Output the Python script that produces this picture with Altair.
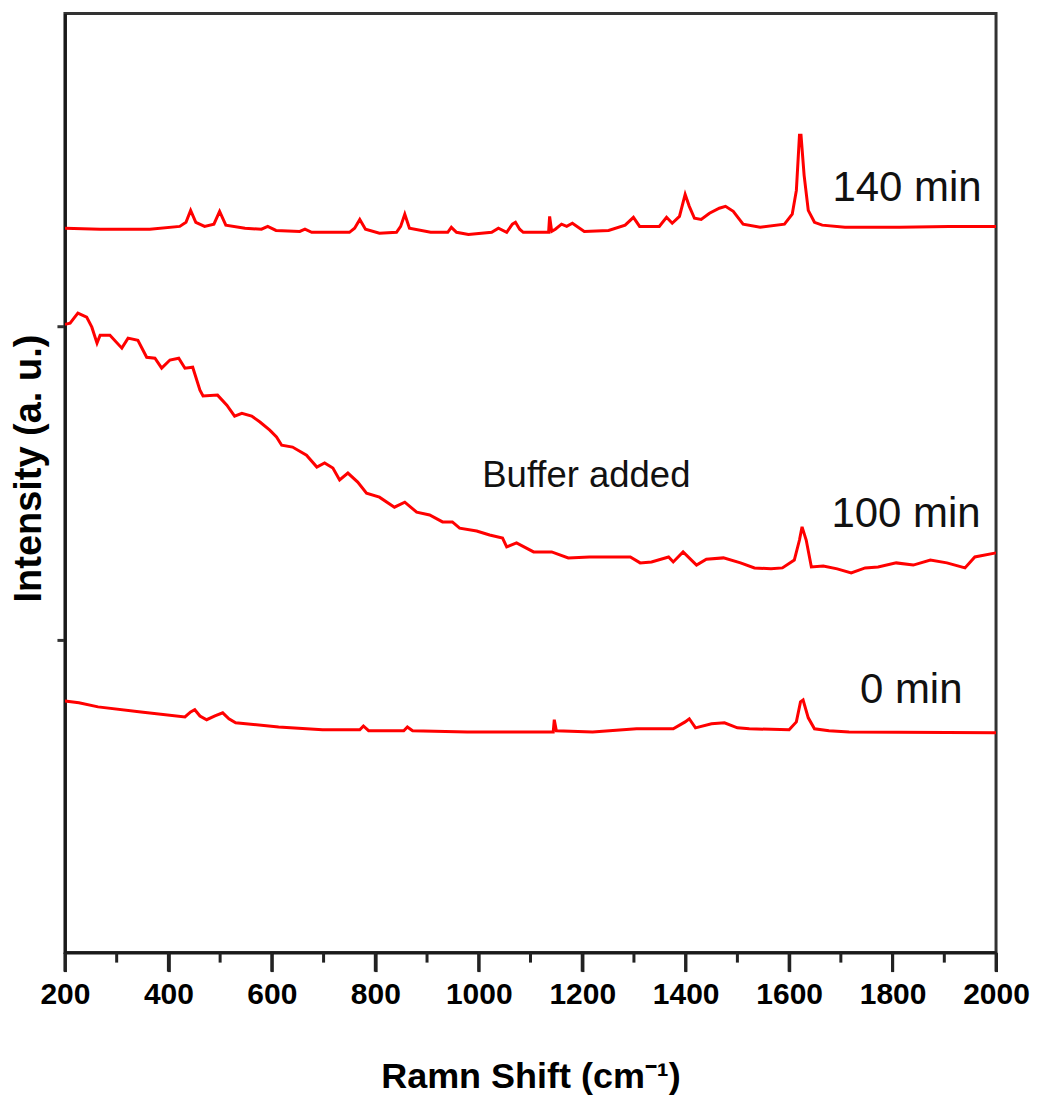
import altair as alt
import pandas as pd

# ---- data (Raman shift in cm^-1, intensity in a.u.) ----
wn_140 = [200, 268, 364, 422, 434, 443, 453, 470, 488, 499, 511, 548, 580, 592, 608, 654, 664, 677,
          750, 760, 770, 781, 808, 841, 849, 857, 866, 907, 940, 947, 957, 980, 1025, 1038, 1054,
          1065, 1071, 1079, 1086, 1135, 1137, 1141, 1148, 1160, 1170, 1181, 1204, 1251, 1283, 1299,
          1311, 1349, 1363, 1374, 1388, 1399, 1407, 1417, 1430, 1446, 1465, 1477, 1492, 1511, 1544,
          1591, 1606, 1614, 1620, 1623, 1629, 1637, 1649, 1664, 1708, 1813, 1909, 2000]
int_140 = [2.314, 2.311, 2.311, 2.320, 2.333, 2.371, 2.333, 2.320, 2.327, 2.368, 2.324, 2.314, 2.311,
           2.320, 2.307, 2.304, 2.311, 2.301, 2.301, 2.314, 2.342, 2.311, 2.298, 2.301, 2.320, 2.359,
           2.314, 2.301, 2.301, 2.317, 2.301, 2.294, 2.301, 2.314, 2.301, 2.327, 2.333, 2.311, 2.301,
           2.301, 2.352, 2.304, 2.311, 2.327, 2.320, 2.330, 2.304, 2.307, 2.324, 2.349, 2.320, 2.320,
           2.349, 2.330, 2.352, 2.422, 2.384, 2.346, 2.342, 2.362, 2.378, 2.384, 2.368, 2.327, 2.317,
           2.327, 2.359, 2.435, 2.611, 2.611, 2.483, 2.371, 2.333, 2.324, 2.317, 2.317, 2.320, 2.320]

wn_100 = [200, 210, 225, 242, 252, 262, 268, 287, 310, 322, 341, 358, 374, 387, 403, 420, 432, 447,
          461, 467, 495, 513, 528, 542, 561, 577, 596, 609, 619, 640, 667, 687, 702, 718, 731, 747,
          766, 783, 808, 837, 857, 880, 905, 930, 949, 963, 996, 1021, 1046, 1054, 1073, 1106, 1141,
          1173, 1214, 1253, 1293, 1312, 1334, 1367, 1376, 1395, 1421, 1440, 1473, 1506, 1533, 1565,
          1587, 1610, 1620, 1625, 1633, 1643, 1666, 1693, 1720, 1747, 1772, 1807, 1840, 1873, 1905,
          1940, 1959, 2000]
int_100 = [2.007, 2.011, 2.043, 2.030, 1.998, 1.947, 1.972, 1.972, 1.931, 1.963, 1.956, 1.902, 1.899,
           1.867, 1.893, 1.899, 1.867, 1.870, 1.797, 1.778, 1.781, 1.749, 1.714, 1.723, 1.714, 1.695,
           1.669, 1.647, 1.621, 1.615, 1.589, 1.551, 1.564, 1.548, 1.510, 1.532, 1.503, 1.468, 1.455,
           1.423, 1.439, 1.407, 1.398, 1.376, 1.376, 1.356, 1.347, 1.334, 1.324, 1.296, 1.309, 1.280,
           1.280, 1.261, 1.264, 1.264, 1.264, 1.245, 1.248, 1.264, 1.248, 1.280, 1.238, 1.257, 1.261,
           1.245, 1.229, 1.226, 1.229, 1.254, 1.318, 1.360, 1.318, 1.232, 1.235, 1.226, 1.213, 1.229,
           1.232, 1.245, 1.238, 1.254, 1.245, 1.229, 1.264, 1.277]

wn_0 = [200, 227, 264, 347, 432, 443, 451, 461, 474, 490, 505, 517, 530, 613, 698, 770, 777, 787, 855,
        862, 872, 978, 1086, 1144, 1146, 1150, 1220, 1305, 1376, 1399, 1407, 1419, 1450, 1475, 1500,
        1523, 1600, 1614, 1622, 1627, 1637, 1649, 1677, 1716, 2000]
int_0 = [0.804, 0.798, 0.785, 0.769, 0.753, 0.769, 0.776, 0.756, 0.744, 0.756, 0.766, 0.747, 0.734,
         0.721, 0.712, 0.712, 0.724, 0.709, 0.709, 0.721, 0.709, 0.705, 0.705, 0.705, 0.744, 0.709,
         0.705, 0.715, 0.715, 0.737, 0.747, 0.718, 0.731, 0.734, 0.718, 0.715, 0.712, 0.737, 0.801,
         0.807, 0.750, 0.715, 0.709, 0.705, 0.702]

minor_ticks = [300, 500, 700, 900, 1100, 1300, 1500, 1700, 1900]
major_ticks = [200, 400, 600, 800, 1000, 1200, 1400, 1600, 1800, 2000]

label_text = ["140 min", "100 min", "0 min"]
label_wn = [1828, 1826, 1836]
label_int = [2.441, 1.401, 0.839]

note_text = ["Buffer added"]
note_wn = [1208]
note_int = [1.522]

# ---- build tables ----
rows = []
for name, xs, ys in [("140 min", wn_140, int_140), ("100 min", wn_100, int_100), ("0 min", wn_0, int_0)]:
    for a, b in zip(xs, ys):
        rows.append({"series": name, "wn": a, "inten": b})
spec_df = pd.DataFrame(rows)
minor_df = pd.DataFrame({"wn": minor_ticks})
major_df = pd.DataFrame({"wn": major_ticks})
label_df = pd.DataFrame({"wn": label_wn, "inten": label_int, "text": label_text})
note_df = pd.DataFrame({"wn": note_wn, "inten": note_int, "text": note_text})

W, H = 932, 940
FONT = "Liberation Sans"

xscale = alt.Scale(domain=[200, 2000], nice=False, zero=False)
yscale = alt.Scale(domain=[0, 3], nice=False, zero=False)

x_axis = alt.Axis(values=major_ticks, format="d", title="Ramn Shift (cm⁻¹)", grid=False,
                  ticks=True, tickSize=19, tickWidth=3, tickColor="#222222",
                  domainWidth=3, domainColor="#1a1a1a",
                  labelFontSize=30, labelFontWeight="bold", labelFont=FONT,
                  labelColor="#000000", labelPadding=8, labelFlush=False,
                  labelOverlap=False,
                  titleFontSize=36, titleFontWeight="bold", titleFont=FONT,
                  titleColor="#000000", titlePadding=50)
y_axis = alt.Axis(values=[1, 2], labels=False, title="Intensity (a. u.)", grid=False,
                  ticks=True, tickSize=8, tickWidth=3, tickColor="#333333",
                  domainWidth=3, domainColor="#1a1a1a",
                  titleFontSize=38, titleFontWeight="bold", titleFont=FONT,
                  titleColor="#000000", titlePadding=7, titleY=455)

X = alt.X("wn:Q", scale=xscale, axis=x_axis)
Y = alt.Y("inten:Q", scale=yscale, axis=y_axis)

lines = alt.Chart(spec_df).mark_line(color="#ff0000", strokeWidth=3, clip=True).encode(
    x=X, y=Y, detail="series:N",
)

minor = alt.Chart(minor_df).mark_rule(color="#222222", strokeWidth=3).encode(
    x=X,
    y=alt.value(H),
    y2=alt.value(H + 10),
)

major = alt.Chart(major_df).mark_rule(color="#222222", strokeWidth=3).encode(
    x=X,
    y=alt.value(H),
    y2=alt.value(H + 19),
)

labels = alt.Chart(label_df).mark_text(font=FONT, fontSize=42, color="#111111",
                                       align="center", baseline="middle").encode(
    x=X, y=Y, text="text:N",
)

note = alt.Chart(note_df).mark_text(font=FONT, fontSize=36.5, color="#111111",
                                    align="center", baseline="middle").encode(
    x=X, y=Y, text="text:N",
)

chart = alt.layer(lines, minor, major, labels, note).properties(
    width=W, height=H,
    background="white",
    autosize=alt.AutoSizeParams(type="none"),
    padding={"left": 57, "top": 5, "right": 34, "bottom": 143},
).configure_view(stroke="#333333", strokeWidth=3)

chart.save("out.html", embed_options={"renderer": "svg", "actions": False})
